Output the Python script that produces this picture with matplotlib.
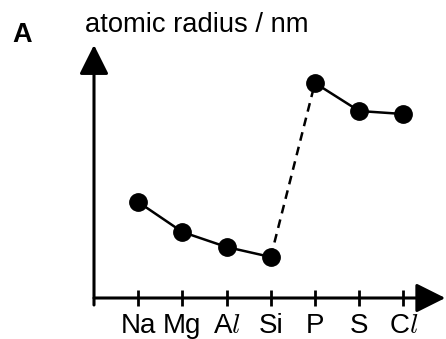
import matplotlib
matplotlib.use('Agg')
import matplotlib.pyplot as plt

# period 3 elements, schematic radius (arbitrary units)
elements = ['Na', 'Mg', r'A$l$', 'Si', 'P', 'S', r'C$l$']
radius = [96, 66, 51, 41, 215, 187, 184]

plt.rcParams['font.family'] = ['Liberation Sans', 'DejaVu Sans']
plt.rcParams['mathtext.fontset'] = 'cm'

W, H = 446, 339
fig = plt.figure(figsize=(W / 100, H / 100), dpi=100)
# axes box: left edge = y axis, bottom edge = x axis
ax = fig.add_axes([94 / W, (H - 298) / H, (W - 94) / W, (298 - 45) / H])
ax.set_xlim(-1, 6.966)
ax.set_ylim(0, 253)
for s in ax.spines.values():
    s.set_visible(False)

x = list(range(len(elements)))

# solid segments Na..Si and P..Cl, dashed jump Si -> P
ax.plot(x[:4], radius[:4], color='black', lw=1.8, zorder=2)
ax.plot(x[4:], radius[4:], color='black', lw=1.8, zorder=2)
ax.plot(x[3:5], radius[3:5], color='black', lw=1.8, ls=(0, (3.5, 2.5)), zorder=2)
ax.plot(x, radius, 'o', color='black', ms=12.5, zorder=3, clip_on=False)

# axes arrows
arrow = dict(arrowstyle='-|>,head_length=1.0,head_width=0.5', color='black',
             lw=2.2, mutation_scale=18, shrinkA=0, shrinkB=0)
ax.annotate('', xy=(6.95, 0), xytext=(-1, 0), arrowprops=arrow,
            annotation_clip=False)
ax.annotate('', xy=(-1, 253), xytext=(-1, -7), arrowprops=arrow,
            annotation_clip=False)

ax.set_xticks(x)
ax.set_xticklabels(elements)
ax.set_yticks([])
ax.tick_params(axis='x', direction='inout', length=11.5, width=2,
               labelsize=20, pad=5)

fig.text(85 / W, 1 - 32 / H, 'atomic radius / nm', fontsize=19.7,
         va='baseline', ha='left')
fig.text(12.7 / W, 1 - 41.7 / H, 'A', fontsize=19.5, fontweight='bold',
         va='baseline', ha='left')

fig.savefig('out.png', dpi=100)
